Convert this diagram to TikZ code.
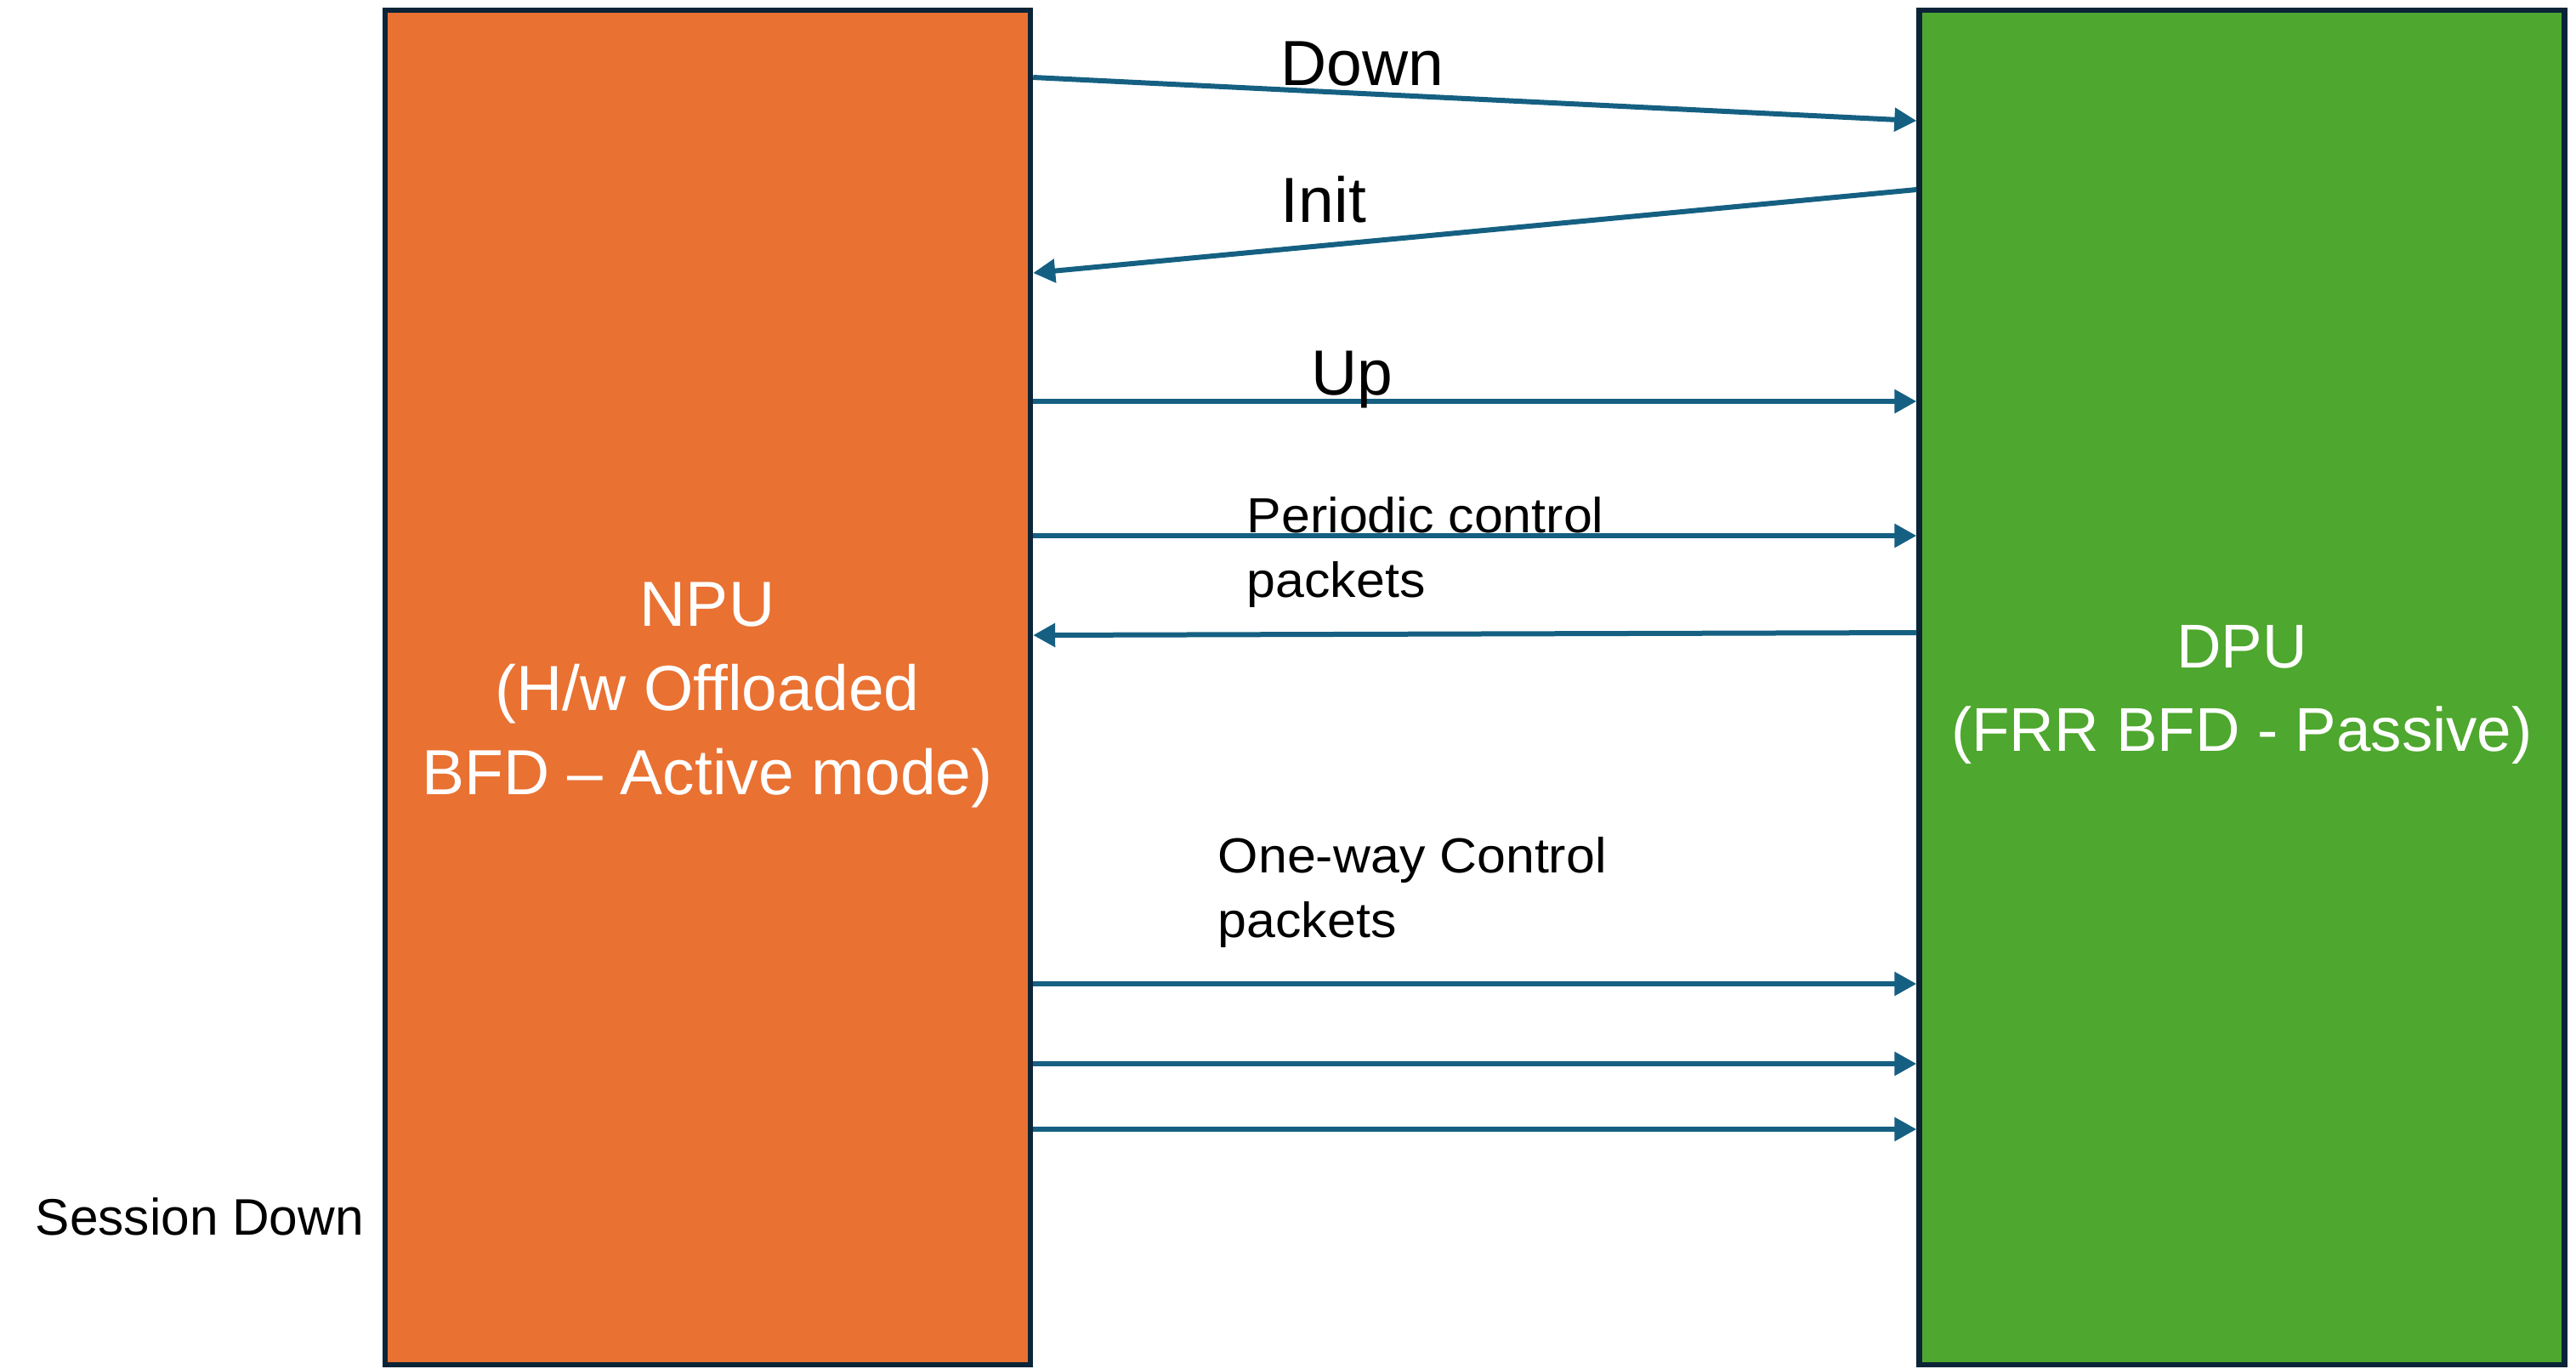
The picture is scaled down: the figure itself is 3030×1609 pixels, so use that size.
\documentclass[tikz,border=0pt]{standalone}
\usepackage{fontspec}
\setmainfont{Liberation Sans}
\newfontfamily\labelfont[FakeStretch=1.05]{Liberation Sans}
\usetikzlibrary{arrows.meta}
\definecolor{npuorange}{HTML}{E97132}
\definecolor{dpugreen}{HTML}{4EA72E}
\definecolor{boxborder}{HTML}{0B2437}
\definecolor{msgblue}{HTML}{156082}
\tikzset{
  unitbox/.style={draw=boxborder, line width=1.6pt, minimum width=189.75pt, minimum height=398.25pt, inner sep=0pt},
  boxtext/.style={text=white, align=center, inner sep=0pt, anchor=base},
  msg/.style={draw=msgblue, line width=1.5pt, -{Triangle[length=6.5pt,width=6.75pt]}},
  biglabel/.style={font=\fontsize{18.75pt}{22pt}\selectfont, inner sep=0pt, anchor=base west},
  smalllabel/.style={font=\labelfont\fontsize{14.5pt}{19pt}\selectfont, align=left, inner sep=0pt, anchor=base west},
  sidelabel/.style={font=\fontsize{15.1pt}{18pt}\selectfont, inner sep=0pt, anchor=base west},
}
\begin{document}
\begin{tikzpicture}[x=0.25pt,y=-0.25pt]
\useasboundingbox (0,0) rectangle (3030,1609);

% boxes
\node[unitbox, fill=npuorange] (npu) at (832.5,808.5) {};
\node[unitbox, fill=dpugreen] (dpu) at (2637,808.5) {};

% multi-line nodes: the base anchor sits on the last line's baseline
\node[boxtext, font=\fontsize{18.75pt}{24.75pt}\selectfont] (npuText) at (832,934) {NPU\\(H/w Offloaded\\BFD – Active mode)};
\node[boxtext, font=\fontsize{18.2pt}{24.5pt}\selectfont] (dpuText) at (2637,883) {DPU\\(FRR BFD - Passive)};

% heights of the messages
\coordinate (yDownA) at (0,91);
\coordinate (yDownB) at (0,142);
\coordinate (yInitA) at (0,223);
\coordinate (yInitB) at (0,321);
\coordinate (yUp) at (0,472);
\coordinate (yPer) at (0,630);
\coordinate (yBackA) at (0,744);
\coordinate (yBackB) at (0,747);
\coordinate (yOneA) at (0,1157);
\coordinate (yOneB) at (0,1251);
\coordinate (yOneC) at (0,1328);

% messages
\draw[msg] (npu.east |- yDownA) -- (dpu.west |- yDownB);
\draw[msg] (dpu.west |- yInitA) -- (npu.east |- yInitB);
\draw[msg] (npu.east |- yUp) -- (dpu.west |- yUp);
\draw[msg] (npu.east |- yPer) -- (dpu.west |- yPer);
\draw[msg] (dpu.west |- yBackA) -- (npu.east |- yBackB);
\draw[msg] (npu.east |- yOneA) -- (dpu.west |- yOneA);
\draw[msg] (npu.east |- yOneB) -- (dpu.west |- yOneB);
\draw[msg] (npu.east |- yOneC) -- (dpu.west |- yOneC);

% labels
\node[biglabel] (lDown) at (1506,100) {Down};
\node[biglabel] (lInit) at (1506,261) {Init};
\node[biglabel] (lUp) at (1542,464) {Up};
\node[smalllabel] (lPer) at (1466,702) {Periodic control\\packets};
\node[smalllabel] (lOne) at (1432,1102) {One-way Control\\packets};
\node[sidelabel] (lSession) at (41,1452) {Session Down};
\end{tikzpicture}
\end{document}
